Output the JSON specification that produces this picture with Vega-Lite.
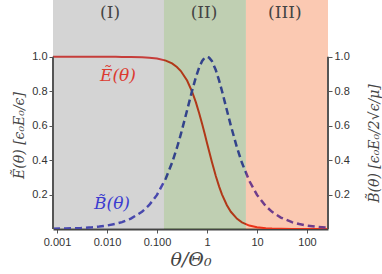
{
  "$schema": "https://vega.github.io/schema/vega-lite/v6.json",
  "width": 275,
  "height": 229,
  "autosize": {"type": "none"},
  "padding": {"left": 53, "top": 0, "right": 54, "bottom": 45},
  "background": "white",
  "config": {
    "view": {"stroke": null},
    "axis": {
      "labelFont": "Liberation Sans",
      "labelFontSize": 11,
      "labelColor": "#333333",
      "titleFont": "DejaVu Serif",
      "titleFontStyle": "italic",
      "titleFontWeight": "normal",
      "titleColor": "#444444",
      "grid": false,
      "zindex": 1,
      "tickColor": "#555555",
      "domainColor": "#444444"
    }
  },
  "datasets": {
    "curves": [
      {"theta": 0.000832, "E": 1.0, "B": 0.0017},
      {"theta": 0.0015, "E": 1.0, "B": 0.003},
      {"theta": 0.002, "E": 1.0, "B": 0.004},
      {"theta": 0.003, "E": 1.0, "B": 0.006},
      {"theta": 0.005, "E": 1.0, "B": 0.01},
      {"theta": 0.007, "E": 1.0, "B": 0.014},
      {"theta": 0.01, "E": 0.9999, "B": 0.02},
      {"theta": 0.015, "E": 0.9998, "B": 0.03},
      {"theta": 0.02, "E": 0.9996, "B": 0.04},
      {"theta": 0.03, "E": 0.9991, "B": 0.06},
      {"theta": 0.05, "E": 0.9975, "B": 0.0998},
      {"theta": 0.07, "E": 0.9951, "B": 0.1393},
      {"theta": 0.1, "E": 0.9901, "B": 0.198},
      {"theta": 0.15, "E": 0.978, "B": 0.2934},
      {"theta": 0.2, "E": 0.9615, "B": 0.3846},
      {"theta": 0.25, "E": 0.9412, "B": 0.4706},
      {"theta": 0.3, "E": 0.9174, "B": 0.5505},
      {"theta": 0.4, "E": 0.8621, "B": 0.6897},
      {"theta": 0.5, "E": 0.8, "B": 0.8},
      {"theta": 0.6, "E": 0.7353, "B": 0.8824},
      {"theta": 0.7, "E": 0.6711, "B": 0.9396},
      {"theta": 0.8, "E": 0.6098, "B": 0.9756},
      {"theta": 0.9, "E": 0.5525, "B": 0.9945},
      {"theta": 1.0, "E": 0.5, "B": 1.0},
      {"theta": 1.1, "E": 0.4525, "B": 0.9955},
      {"theta": 1.25, "E": 0.3902, "B": 0.9756},
      {"theta": 1.5, "E": 0.3077, "B": 0.9231},
      {"theta": 1.75, "E": 0.2462, "B": 0.8615},
      {"theta": 2.0, "E": 0.2, "B": 0.8},
      {"theta": 2.5, "E": 0.1379, "B": 0.6897},
      {"theta": 3.0, "E": 0.1, "B": 0.6},
      {"theta": 4.0, "E": 0.0588, "B": 0.4706},
      {"theta": 5.0, "E": 0.0385, "B": 0.3846},
      {"theta": 7.0, "E": 0.02, "B": 0.28},
      {"theta": 10.0, "E": 0.0099, "B": 0.198},
      {"theta": 15.0, "E": 0.0044, "B": 0.1327},
      {"theta": 20.0, "E": 0.0025, "B": 0.0998},
      {"theta": 30.0, "E": 0.0011, "B": 0.0666},
      {"theta": 50.0, "E": 0.0004, "B": 0.04},
      {"theta": 70.0, "E": 0.0002, "B": 0.0286},
      {"theta": 100.0, "E": 0.0001, "B": 0.02},
      {"theta": 150.0, "E": 0.00004, "B": 0.0133},
      {"theta": 200.0, "E": 0.000025, "B": 0.01},
      {"theta": 263.0, "E": 0.000014, "B": 0.0076}
    ],
    "regions": [
      {"x1": 0.000832, "x2": 0.138, "region": "I"},
      {"x1": 0.138, "x2": 6.0, "region": "II"},
      {"x1": 6.0, "x2": 263.0, "region": "III"}
    ],
    "regionLabels": [
      {"theta": 0.0115, "y": 1.255, "label": "(I)"},
      {"theta": 0.87, "y": 1.255, "label": "(II)"},
      {"theta": 36.0, "y": 1.255, "label": "(III)"}
    ]
  },
  "layer": [
    {
      "data": {"name": "curves"},
      "mark": {"type": "line", "color": "#eb2823", "strokeWidth": 2, "clip": true},
      "encoding": {
        "x": {
          "field": "theta", "type": "quantitative",
          "scale": {"type": "log", "domain": [0.000832, 263], "nice": false},
          "axis": {
            "values": [0.001, 0.01, 0.1, 1, 10, 100],
            "labelExpr": "datum.value < 0.005 ? '0.001' : datum.value < 0.05 ? '0.010' : datum.value < 0.5 ? '0.100' : format(datum.value, 'd')",
            "title": "θ/Θ₀",
            "titleFontSize": 19,
            "titlePadding": 3,
            "domainWidth": 2,
            "tickSize": 4,
            "labelPadding": 3,
            "labelFlush": false
          }
        },
        "y": {
          "field": "E", "type": "quantitative",
          "scale": {"domain": [0, 1.33], "nice": false},
          "axis": {
            "orient": "left",
            "values": [0.2, 0.4, 0.6, 0.8, 1.0],
            "format": ".1f",
            "domain": false,
            "tickSize": 4,
            "labelPadding": 2,
            "title": "Ẽ(θ) [ϵ₀E₀/ϵ]",
            "titleFontSize": 14,
            "titleY": 135,
            "titlePadding": 5
          }
        }
      }
    },
    {
      "data": {"name": "curves"},
      "mark": {"type": "line", "color": "#3737c8", "strokeWidth": 2.5, "strokeDash": [7, 4], "clip": true},
      "encoding": {
        "x": {"field": "theta", "type": "quantitative"},
        "y": {
          "field": "B", "type": "quantitative",
          "axis": {
            "orient": "right",
            "values": [0.2, 0.4, 0.6, 0.8, 1.0],
            "format": ".1f",
            "domain": false,
            "tickSize": 4,
            "labelPadding": 2,
            "title": "B̃(θ) [ϵ₀E₀/2√ϵ/μ]",
            "titleFontSize": 14,
            "titleAngle": -90,
            "titleY": 143,
            "titleX": 46,
            "titleBaseline": "middle"
          }
        }
      }
    },
    {
      "data": {"name": "regions"},
      "mark": {"type": "rect", "opacity": 0.3},
      "encoding": {
        "x": {"field": "x1", "type": "quantitative"},
        "x2": {"field": "x2"},
        "y": {"datum": 0, "axis": null},
        "y2": {"datum": 1.33},
        "color": {
          "field": "region", "type": "nominal",
          "scale": {"domain": ["I", "II", "III"], "range": ["#707070", "#2a5f00", "#f24b00"]},
          "legend": null
        }
      }
    },
    {
      "data": {"values": [{"side": "left"}]},
      "mark": {"type": "rule", "color": "#555555", "strokeWidth": 2},
      "encoding": {
        "x": {"datum": 0.000832},
        "y": {"datum": 0, "axis": null},
        "y2": {"datum": 1}
      }
    },
    {
      "data": {"values": [{"side": "right"}]},
      "mark": {"type": "rule", "color": "#555555", "strokeWidth": 2},
      "encoding": {
        "x": {"datum": 263},
        "y": {"datum": 0, "axis": null},
        "y2": {"datum": 1}
      }
    },
    {
      "data": {"name": "regionLabels"},
      "mark": {"type": "text", "font": "DejaVu Serif", "fontSize": 17, "color": "#444444", "baseline": "middle"},
      "encoding": {
        "x": {"field": "theta", "type": "quantitative"},
        "y": {"field": "y", "type": "quantitative", "axis": null},
        "text": {"field": "label"}
      }
    },
    {
      "data": {"values": [{"theta": 0.0166, "y": 0.89, "label": "Ẽ(θ)"}]},
      "mark": {"type": "text", "font": "DejaVu Serif", "fontStyle": "italic", "fontSize": 17, "color": "#dc3a30", "baseline": "middle"},
      "encoding": {
        "x": {"field": "theta", "type": "quantitative"},
        "y": {"field": "y", "type": "quantitative", "axis": null},
        "text": {"field": "label"}
      }
    },
    {
      "data": {"values": [{"theta": 0.0126, "y": 0.145, "label": "B̃(θ)"}]},
      "mark": {"type": "text", "font": "DejaVu Serif", "fontStyle": "italic", "fontSize": 17, "color": "#3c3cd0", "baseline": "middle"},
      "encoding": {
        "x": {"field": "theta", "type": "quantitative"},
        "y": {"field": "y", "type": "quantitative", "axis": null},
        "text": {"field": "label"}
      }
    }
  ],
  "resolve": {"axis": {"y": "independent"}}
}
